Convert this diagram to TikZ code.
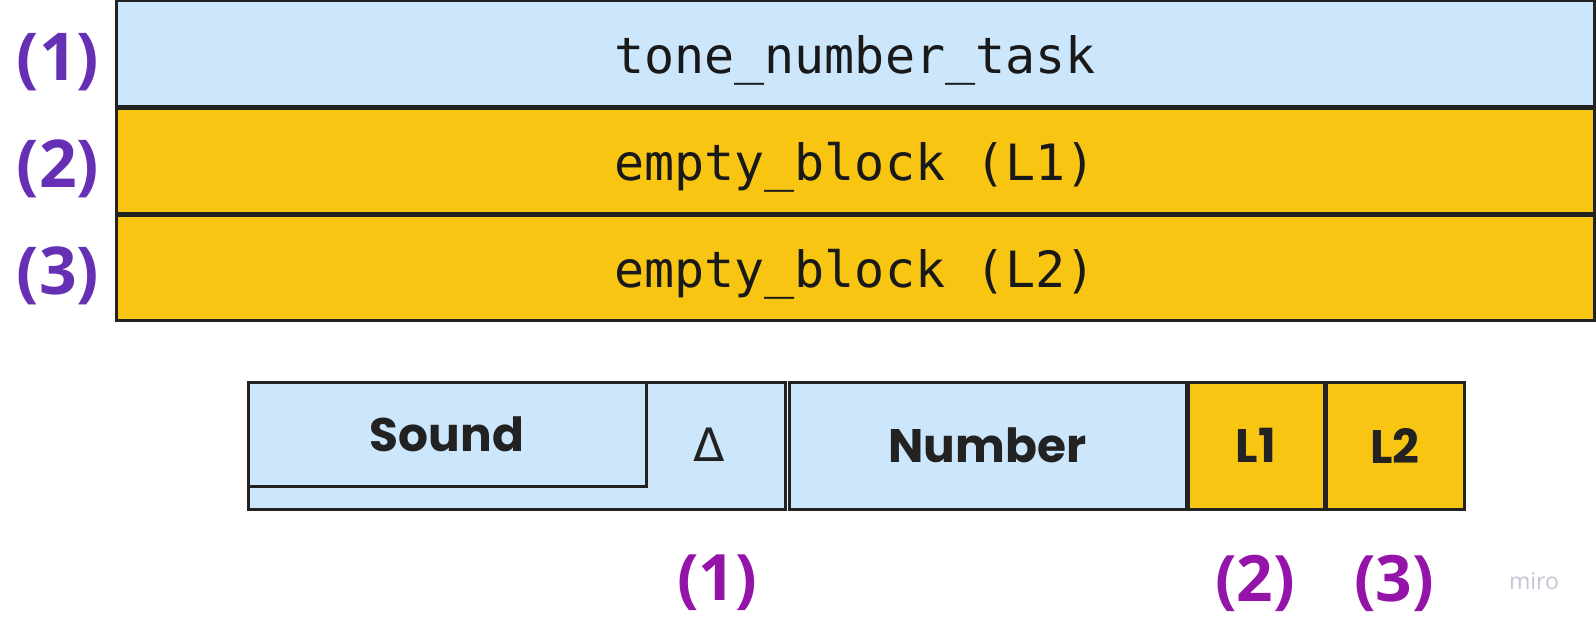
\documentclass[tikz,border=0pt]{standalone}
\usepackage{fontspec}
\setmainfont{Open Sans}
\newfontfamily\monof{DejaVu Sans Mono}
\newfontfamily\roundf{Poppins}
\newfontfamily\labf{Open Sans}
\newfontfamily\dejav{DejaVu Sans}
\definecolor{lblue}{HTML}{CCE7FC}
\definecolor{gold}{HTML}{F8C512}
\definecolor{edge}{HTML}{222222}
\definecolor{purpA}{HTML}{6630B4}
\definecolor{purpB}{HTML}{9414AA}
\definecolor{mirog}{HTML}{C4C4D6}
\tikzset{
  bx/.style={draw=edge, line width=3pt, inner sep=0pt, outer sep=0pt, anchor=north west},
  bluebx/.style={bx, fill=lblue},
  goldbx/.style={bx, fill=gold},
  monotxt/.style={font=\monof\fontsize{50}{60}\selectfont, text=black!90, yshift=-7pt},
  boldtxt/.style={font=\roundf\bfseries\fontsize{47}{56}\selectfont, text=edge},
  numlabA/.style={font=\labf\bfseries\fontsize{66}{78}\selectfont, text=purpA},
  numlabB/.style={font=\labf\bfseries\fontsize{64}{76}\selectfont, text=purpB},
}
\begin{document}
\begin{tikzpicture}[x=1pt,y=-1pt]
\useasboundingbox (0,0) rectangle (1596,626);
% top rows
\node[bluebx, minimum width=1478, minimum height=105] (t1) at (116,1) {};
\node[goldbx, minimum width=1478, minimum height=105] (t2) at (116,108) {};
\node[goldbx, minimum width=1478, minimum height=105] (t3) at (116,215) {};
\node[monotxt] (t1txt) at (t1.center) {tone\_number\_task};
\node[monotxt] (t2txt) at (t2.center) {empty\_block (L1)};
\node[monotxt] (t3txt) at (t3.center) {empty\_block (L2)};
\node[numlabA] (l1) at (58,62) {(1)};
\node[numlabA] (l2) at (58,169) {(2)};
\node[numlabA] (l3) at (58,276) {(3)};
% bottom row
\node[bluebx, minimum width=537, minimum height=127] (snd) at (248,382) {};
\node[bluebx, minimum width=398, minimum height=104] (sndin) at (248,382) {};
\node[boldtxt] (sndtxt) at (sndin.center) {Sound};
\node[font=\dejav\fontsize{46}{56}\selectfont, text=edge] (delta) at (709,445) {Δ};
\node[bluebx, minimum width=397, minimum height=127] (num) at (789,382) {};
\node[boldtxt] at (num.center) {Number};
\node[goldbx, minimum width=136, minimum height=127] (b1) at (1188,382) {};
\node[boldtxt] at (b1.center) {L1};
\node[goldbx, minimum width=138, minimum height=127] (b2) at (1326,382) {};
\node[boldtxt] at (b2.center) {L2};
\node[numlabB] (bl1) at (717,583) {(1)};
\node[numlabB] (bl2) at (1255,583) {(2)};
\node[numlabB] (bl3) at (1394,583) {(3)};
\node[font=\labf\fontsize{23}{27}\selectfont, text=mirog] (miro) at (1534,581) {miro};
\end{tikzpicture}
\end{document}
